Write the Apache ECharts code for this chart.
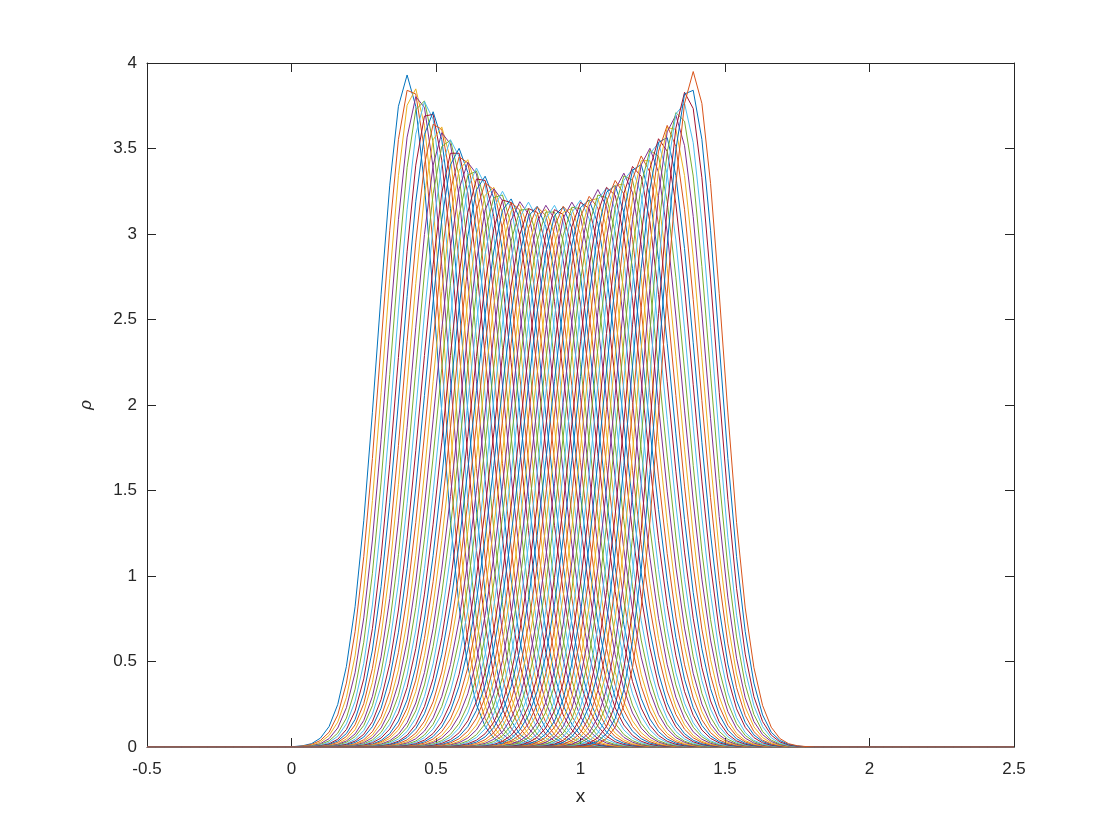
<!DOCTYPE html>
<html><head><meta charset="utf-8">
<script src="https://cdn.jsdelivr.net/npm/echarts@6/dist/echarts.min.js"></script>
<style>html,body{margin:0;padding:0;background:#fff}#c{width:1120px;height:840px}</style>
</head><body><div id="c"></div>
<script>
// x sample grid of every curve (MATLAB-like grid -0.5 : 0.03 : 2.5)
const gridStart = -0.5, gridStep = 0.03, gridCount = 101;

// peak position of each curve (read from the top envelope / edge spacing)
const peakX = [0.4000,0.4127,0.4254,0.4381,0.4508,0.4635,0.4762,0.4888,0.5015,0.5142,
0.5269,0.5396,0.5523,0.5650,0.5777,0.5904,0.6031,0.6158,0.6285,0.6412,
0.6538,0.6665,0.6792,0.6919,0.7046,0.7173,0.7300,0.7427,0.7554,0.7681,
0.7808,0.7935,0.8062,0.8188,0.8315,0.8442,0.8569,0.8696,0.8823,0.8950,
0.9077,0.9204,0.9331,0.9458,0.9585,0.9712,0.9838,0.9965,1.0092,1.0219,
1.0346,1.0473,1.0600,1.0727,1.0854,1.0981,1.1108,1.1235,1.1362,1.1488,
1.1615,1.1742,1.1869,1.1996,1.2123,1.2250,1.2377,1.2504,1.2631,1.2758,
1.2885,1.3012,1.3138,1.3265,1.3392,1.3519,1.3646,1.3773,1.3900];

// peak height of each curve (read from the top envelope)
const peakH = [3.93,3.90,3.87,3.84,3.82,3.79,3.76,3.72,3.69,3.65,
3.62,3.59,3.56,3.53,3.51,3.49,3.46,3.44,3.41,3.39,
3.37,3.35,3.33,3.30,3.28,3.27,3.25,3.24,3.22,3.21,
3.20,3.20,3.19,3.19,3.185,3.18,3.18,3.175,3.175,3.175,
3.175,3.175,3.18,3.18,3.185,3.19,3.20,3.21,3.215,3.225,
3.235,3.25,3.26,3.27,3.285,3.30,3.315,3.325,3.34,3.36,
3.38,3.40,3.42,3.445,3.465,3.485,3.51,3.53,3.56,3.58,
3.61,3.64,3.68,3.71,3.75,3.80,3.85,3.90,3.95];

// normalised bump profile (rho / peak) read at offsets of 0.25 widths from the peak
const profile = [1,0.9692,0.8825,0.7548,0.6065,0.4578,0.3247,0.2163,0.1353,0.0796,
0.0439,0.0228,0.0111,0.0051,0.0022,0.0009,0.0003,0.0001,0,0,0];
const profileStep = 0.25;

const xTicks = [-0.5,0,0.5,1,1.5,2,2.5];
const yTicks = [0,0.5,1,1.5,2,2.5,3,3.5,4];

const colors = ['#0072BD','#D95319','#EDB120','#7E2F8E','#77AC30','#4DBEEE','#A2142F'];

function profAt(u){
  const t = u / profileStep;
  const k = Math.floor(t);
  if (k >= profile.length - 1) return 0;
  const f = t - k;
  return profile[k] * (1 - f) + profile[k + 1] * f;
}

const series = peakX.map(function(c, i){
  const h = peakH[i];
  const w = 1 / (h * Math.sqrt(2 * Math.PI)); // unit-mass width
  const data = [];
  for (let j = 0; j < gridCount; j++) {
    const x = Math.round((gridStart + gridStep * j) * 1000) / 1000;
    data.push([x, h * profAt(Math.abs(x - c) / w)]);
  }
  return {
    type: 'line', data: data, xAxisIndex: 0, yAxisIndex: 0,
    showSymbol: false, symbol: 'none', silent: true, animation: false,
    lineStyle: { width: 1, color: colors[i % colors.length] },
    itemStyle: { color: colors[i % colors.length] }
  };
});

const axisColor = '#262626';
const font = 'Liberation Sans, Arial, Helvetica, sans-serif';
const lab = { color: axisColor, fontSize: 17, fontFamily: font };

const option = {
  animation: false,
  backgroundColor: '#ffffff',
  grid: { left: 147, right: 106, top: 63, bottom: 93, containLabel: false },
  xAxis: [
    { type: 'value', position: 'bottom', min: xTicks[0], max: xTicks[xTicks.length-1], interval: 0.5,
      axisLine: { onZero: false, lineStyle: { color: axisColor, width: 1 } },
      axisTick: { inside: true, length: 9, lineStyle: { color: axisColor } },
      axisLabel: Object.assign({ margin: 14 }, lab),
      splitLine: { show: false },
      name: 'x', nameLocation: 'middle', nameGap: 40,
      nameTextStyle: { color: axisColor, fontSize: 19, fontFamily: font } },
    { type: 'value', position: 'top', min: xTicks[0], max: xTicks[xTicks.length-1], interval: 0.5,
      axisLine: { onZero: false, lineStyle: { color: axisColor, width: 1 } },
      axisTick: { inside: true, length: 9, lineStyle: { color: axisColor } },
      axisLabel: { show: false }, splitLine: { show: false } }
  ],
  yAxis: [
    { type: 'value', position: 'left', min: yTicks[0], max: yTicks[yTicks.length-1], interval: 0.5,
      axisLine: { show: true, onZero: false, lineStyle: { color: axisColor, width: 1 } },
      axisTick: { show: true, inside: true, length: 9, lineStyle: { color: axisColor } },
      axisLabel: Object.assign({ margin: 10 }, lab),
      splitLine: { show: false },
      name: 'ρ', nameLocation: 'middle', nameGap: 52, nameRotate: 90,
      nameTextStyle: { color: axisColor, fontSize: 17, fontFamily: font, fontStyle: 'italic' } },
    { type: 'value', position: 'right', min: yTicks[0], max: yTicks[yTicks.length-1], interval: 0.5,
      axisLine: { show: true, onZero: false, lineStyle: { color: axisColor, width: 1 } },
      axisTick: { show: true, inside: true, length: 9, lineStyle: { color: axisColor } },
      axisLabel: { show: false }, splitLine: { show: false } }
  ],
  series: series
};

const chart = echarts.init(document.getElementById('c'), null, { renderer: 'canvas' });
chart.setOption(option);
</script>
</body></html>
